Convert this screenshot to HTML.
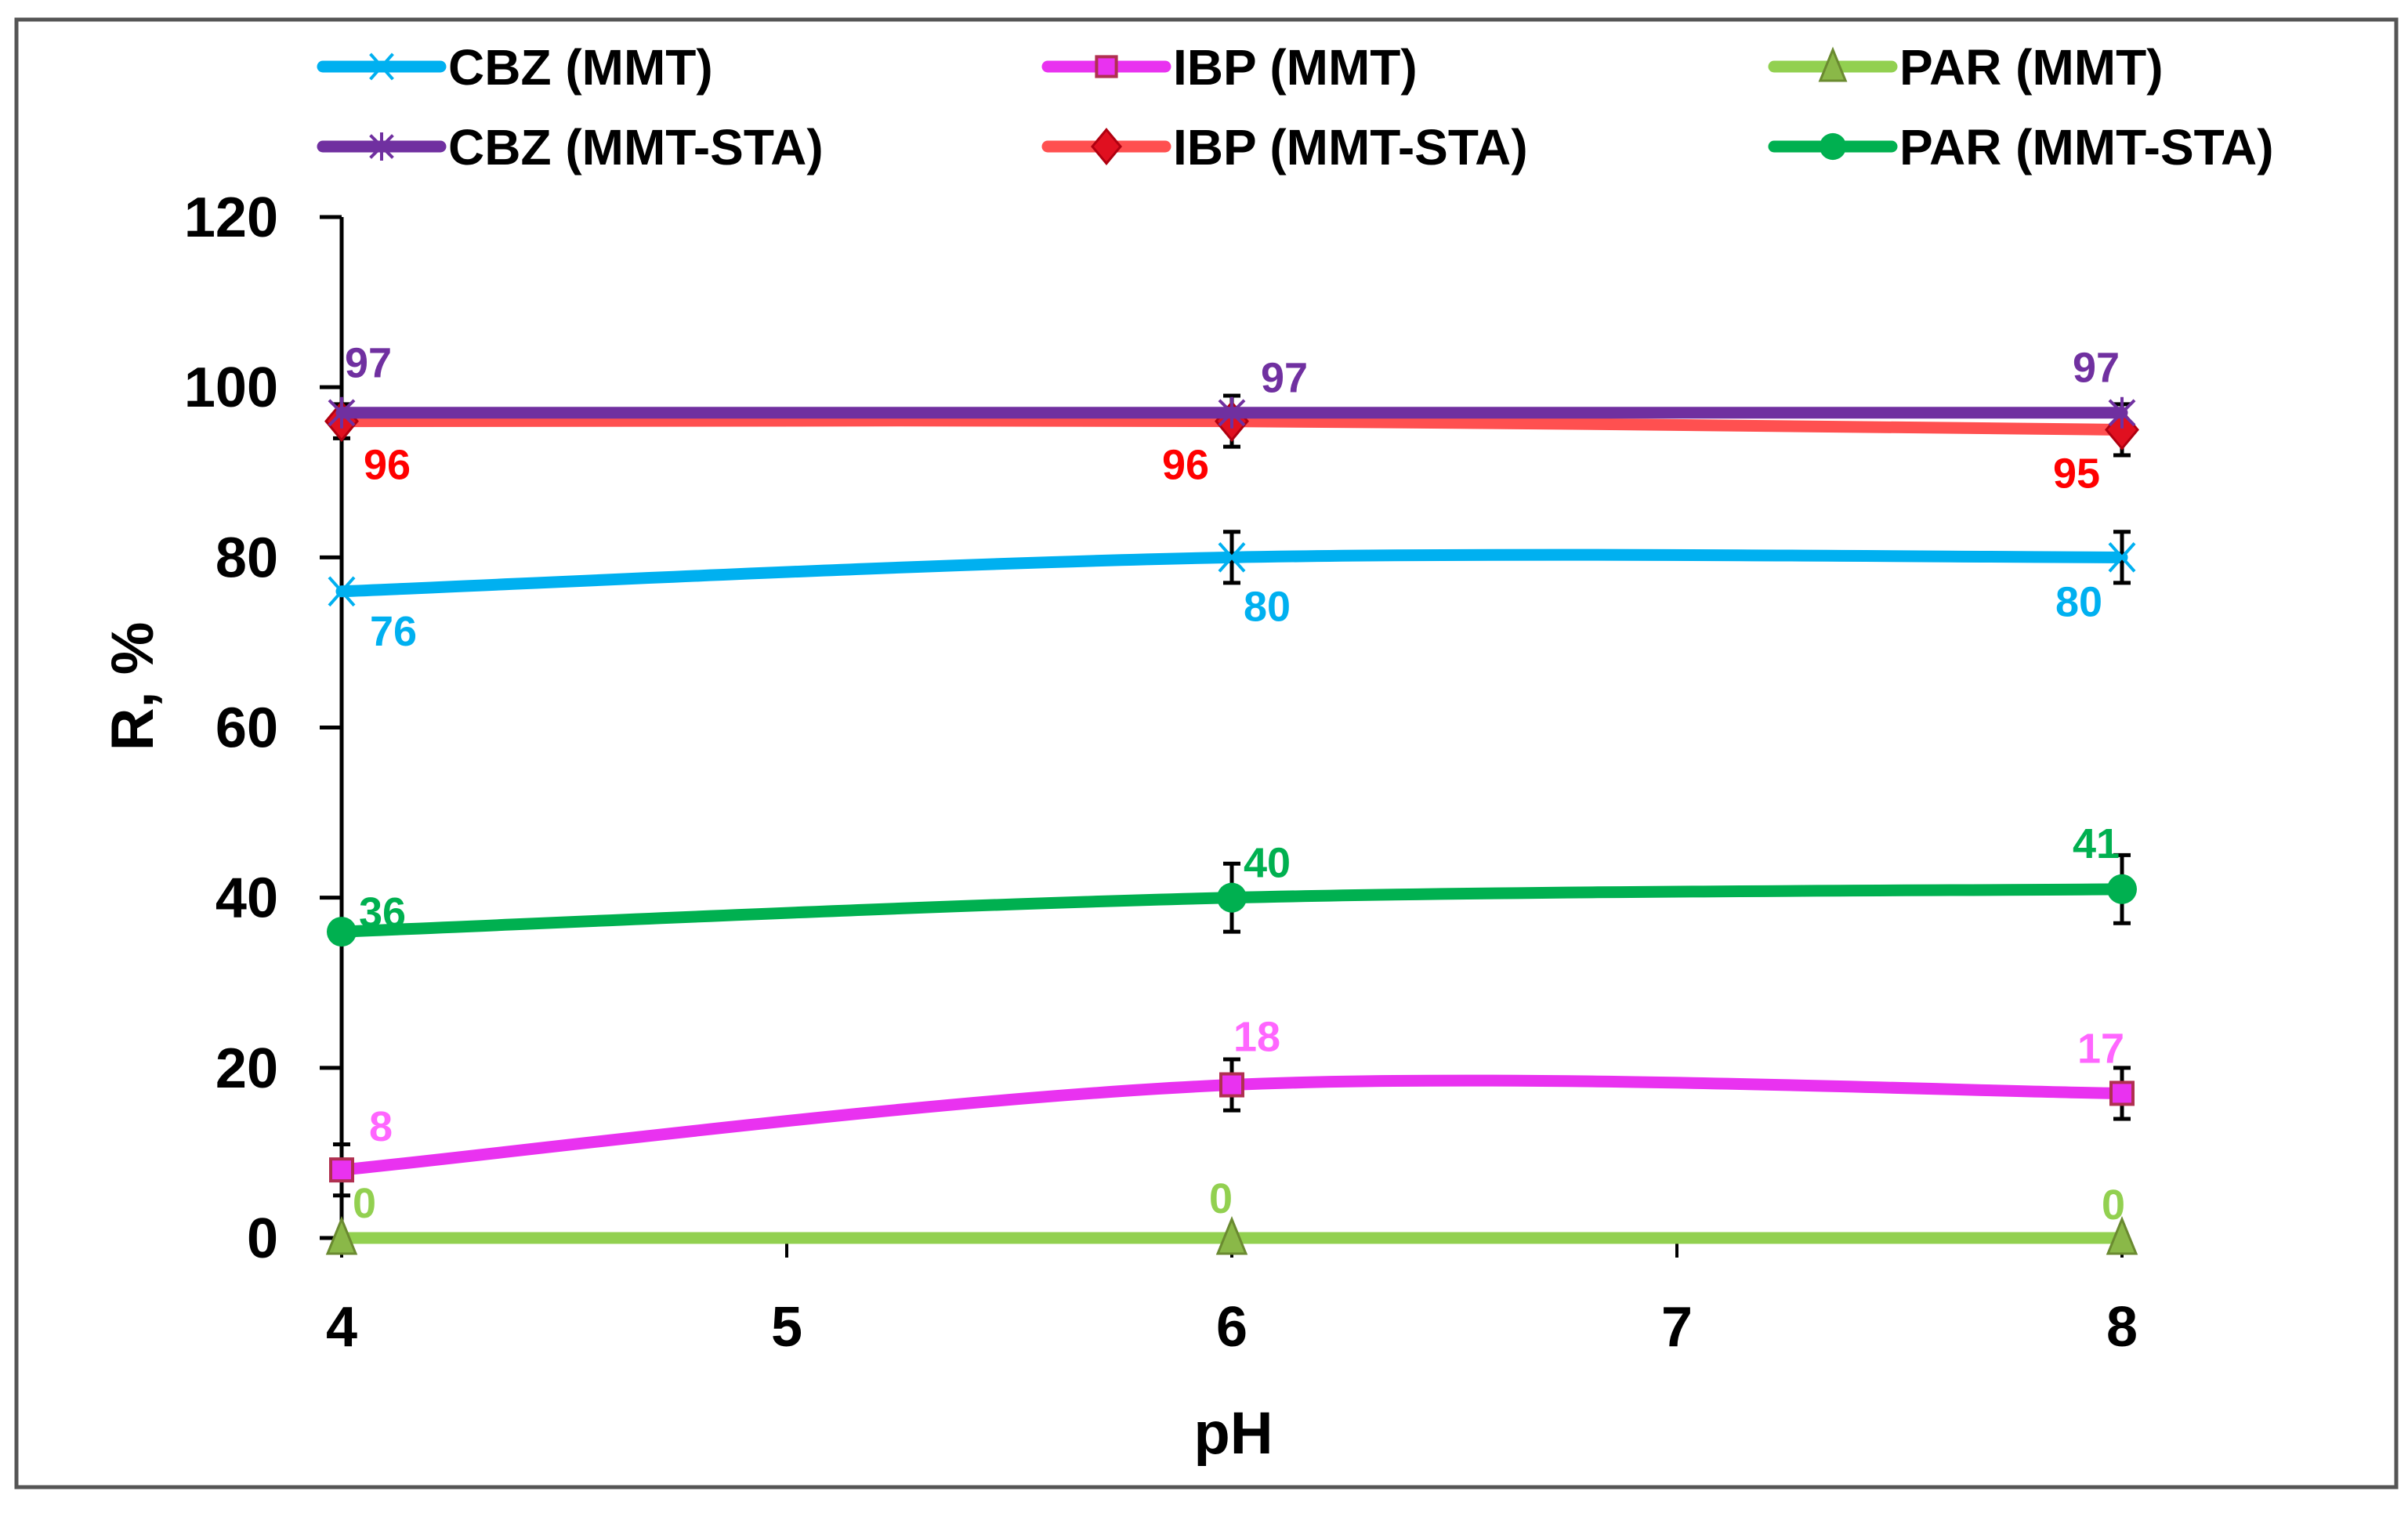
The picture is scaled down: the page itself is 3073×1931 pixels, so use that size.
<!DOCTYPE html>
<html><head><meta charset="utf-8"><style>
html,body{margin:0;padding:0;background:#fff;}
svg{display:block;font-family:"Liberation Sans",sans-serif;}
</style></head><body>
<svg id="chart" width="3073" height="1931" viewBox="0 0 3073 1931">
<rect x="21" y="25" width="3037" height="1873" fill="#fff" stroke="#555" stroke-width="5"/>
<g id="axes"></g><g id="series"></g><g id="legend"></g>
</svg>
<script>
const categories=[4,6,8];
const xTicks=[4,5,6,7,8];
const yTicks=[0,20,40,60,80,100,120];
const cbzMMT=[76,80,80];
const ibpMMT=[8,18,17];
const parMMT=[0,0,0];
const cbzSTA=[97,97,97];
const ibpSTA=[96,96,95];
const parSTA=[36,40,41];
const errCbzMMT=[0,3,3];
const errIbpMMT=[3,3,3];
const errParSTA=[0,4,4];
const errIbpSTA=[2,3,3];

const NS='http://www.w3.org/2000/svg';
const X=v=>436+(v-4)*568;
const Y=v=>1580-v*(1303/120);
function mk(tag,attrs,parent){const e=document.createElementNS(NS,tag);for(const k in attrs)e.setAttribute(k,attrs[k]);parent.appendChild(e);return e;}
const axes=document.getElementById('axes'),ser=document.getElementById('series'),leg=document.getElementById('legend');

let a=mk('line',{x1:X(4),y1:Y(120),x2:X(4),y2:Y(0),stroke:'#000','stroke-width':5},axes);


let b=mk('line',{x1:X(4),y1:Y(0),x2:X(8),y2:Y(0),stroke:'#000','stroke-width':3},axes);


yTicks.forEach(t=>{
 mk('line',{x1:X(4)-28,y1:Y(t),x2:X(4),y2:Y(t),stroke:'#000','stroke-width':5},axes);
 const tx=mk('text',{x:355,y:Y(t)+25,'text-anchor':'end','font-size':72,'font-weight':'bold',fill:'#000'},axes);
 tx.textContent=t;
 
 
});
xTicks.forEach(t=>{
 mk('line',{x1:X(t),y1:Y(0),x2:X(t),y2:Y(0)+25,stroke:'#000','stroke-width':4},axes);
 const tx=mk('text',{x:X(t),y:1718,'text-anchor':'middle','font-size':72,'font-weight':'bold',fill:'#000'},axes);
 tx.textContent=t;
 
 
});
let xt=mk('text',{x:1574,y:1855,'text-anchor':'middle','font-size':76,'font-weight':'bold'},axes);xt.textContent='pH';


let yt=mk('text',{x:0,y:0,transform:'translate(195,876) rotate(-90)','text-anchor':'middle','font-size':76,'font-weight':'bold'},axes);yt.textContent='R, %';



function smoothPath(vals){
 const p=vals.map((v,i)=>[X(categories[i]),Y(v)]);
 let d='M'+p[0][0]+','+p[0][1];
 for(let i=0;i<p.length-1;i++){
  const p0=p[i-1]||p[i],p1=p[i],p2=p[i+1],p3=p[i+2]||p2;
  const c1=[p1[0]+(p2[0]-p0[0])/6,p1[1]+(p2[1]-p0[1])/6];
  const c2=[p2[0]-(p3[0]-p1[0])/6,p2[1]-(p3[1]-p1[1])/6];
  d+=` C${c1[0]},${c1[1]} ${c2[0]},${c2[1]} ${p2[0]},${p2[1]}`;
 }
 return d;
}
function marker(g,type,x,y,col,s){
 s=s||1;
 if(type==='x'){mk('path',{d:`M${x-16*s},${y-18*s}L${x+16*s},${y+18*s}M${x+16*s},${y-18*s}L${x-16*s},${y+18*s}`,stroke:col,'stroke-width':4,fill:'none'},g);}
 else if(type==='star'){mk('path',{d:`M${x-16*s},${y-16*s}L${x+16*s},${y+16*s}M${x+16*s},${y-16*s}L${x-16*s},${y+16*s}M${x},${y-20*s}L${x},${y+20*s}`,stroke:col,'stroke-width':4,fill:'none'},g);}
 else if(type==='sq'){mk('rect',{x:x-14*s,y:y-14*s,width:28*s,height:28*s,fill:'#e932f0',stroke:'#b03050','stroke-width':4},g);}
 else if(type==='dia'){mk('path',{d:`M${x},${y-24*s}L${x+20*s},${y}L${x},${y+24*s}L${x-20*s},${y}Z`,fill:'#e01020',stroke:'#b00010','stroke-width':3},g);}
 else if(type==='tri'){mk('path',{d:`M${x},${y-24*s}L${x+18*s},${y+20*s}L${x-18*s},${y+20*s}Z`,fill:'#8ab848',stroke:'#6a8a30','stroke-width':3},g);}
 else if(type==='circ'){mk('circle',{cx:x,cy:y,r:19*s,fill:'#00b050'},g);}
}
const series=[
 {name:'cbz-mmt',vals:cbzMMT,err:errCbzMMT,col:'#00b0f0',lab:'#00b0f0',m:'x',off:[[66,50],[45,62],[-55,56]]},
 {name:'ibp-mmt',vals:ibpMMT,err:errIbpMMT,col:'#e932f0',lab:'#ff66ff',m:'sq',off:[[50,-56],[32,-62],[-27,-58]]},
 {name:'par-mmt',vals:parMMT,err:[0,0,0],col:'#92d050',lab:'#92d050',m:'tri',off:[[29,-45],[-14,-51],[-11,-43]]},
 {name:'par-sta',vals:parSTA,err:errParSTA,col:'#00b050',lab:'#00b050',m:'circ',off:[[52,-25],[45,-45],[-33,-59]]},
 {name:'ibp-sta',vals:ibpSTA,err:errIbpSTA,col:'#ff5050',lab:'#ff0000',m:'dia',off:[[58,55],[-59,55],[-58,55]]},
 {name:'cbz-sta',vals:cbzSTA,err:[0,0,0],col:'#7030a0',lab:'#7030a0',m:'star',off:[[34,-64],[67,-45],[-33,-58]]},
];
series.forEach(s=>{
 const g=mk('g',{},ser);
 
 
 const ln=mk('path',{d:smoothPath(s.vals),fill:'none',stroke:s.col,'stroke-width':15,'stroke-linecap':'round'},g);
 
 
 s.vals.forEach((v,i)=>{
  const x=X(categories[i]),y=Y(v);
  if(s.err[i]>0){
   const e=s.err[i];
   const eb=mk('path',{d:`M${x},${Y(v+e)}L${x},${Y(v-e)}M${x-11},${Y(v+e)}L${x+11},${Y(v+e)}M${x-11},${Y(v-e)}L${x+11},${Y(v-e)}`,stroke:'#000','stroke-width':5,fill:'none'},g);
   
   
  }
  marker(g,s.m,x,y,s.col);
  const t=mk('text',{x:x+s.off[i][0],y:y+s.off[i][1]+19,'text-anchor':'middle','font-size':54,'font-weight':'bold',fill:s.lab},g);
  t.textContent=v;
  
  
 });
});
const legendItems=[
 ['CBZ (MMT)','#00b0f0','x',412,85],['IBP (MMT)','#e932f0','sq',1337,85],['PAR (MMT)','#92d050','tri',2264,85],
 ['CBZ (MMT-STA)','#7030a0','star',412,187],['IBP (MMT-STA)','#ff5050','dia',1337,187],['PAR (MMT-STA)','#00b050','circ',2264,187]
];
legendItems.forEach(it=>{
 const g=mk('g',{},leg);
 
 
 mk('line',{x1:it[3],y1:it[4],x2:it[3]+150,y2:it[4],stroke:it[1],'stroke-width':15,'stroke-linecap':'round'},g);
 marker(g,it[2],it[3]+75,it[4],it[1],0.9);
 const t=mk('text',{x:it[3]+160,y:it[4]+23,'font-size':64,'font-weight':'bold',fill:'#000'},g);
 t.textContent=it[0];
});
</script>
</body></html>
